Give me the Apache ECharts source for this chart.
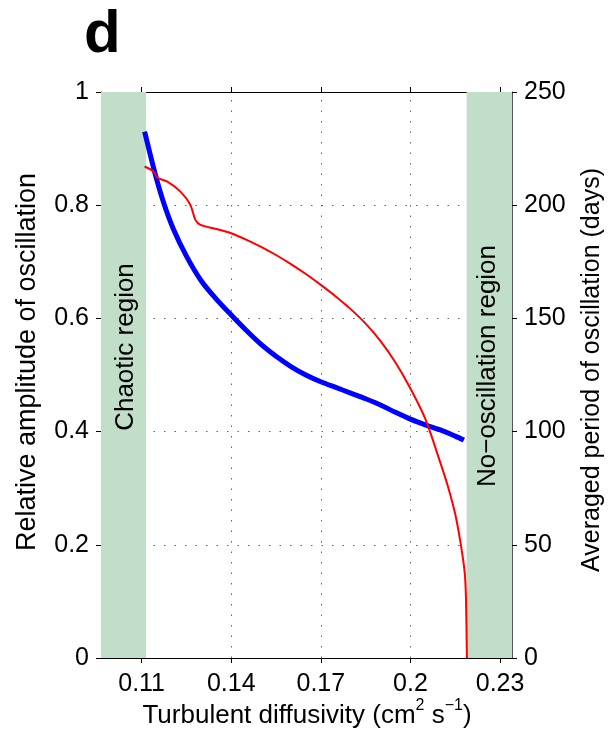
<!DOCTYPE html>
<html><head><meta charset="utf-8">
<script src="https://cdn.jsdelivr.net/npm/echarts@6/dist/echarts.min.js"></script>
<style>html,body{margin:0;padding:0;background:#fff}#c{width:615px;height:743px}</style>
</head><body><div id="c"></div>
<script>
// ---- data ----
const xTickValues = [0.11, 0.14, 0.17, 0.2, 0.23];
const xGridValues = [0.14, 0.17, 0.2];
const chaoticRange = [0.0964, 0.1115];
const noOscRange = [0.2188, 0.234];

const ampX = [0.111, 0.1146, 0.1174, 0.1207, 0.125, 0.13, 0.135, 0.14, 0.145, 0.15, 0.155, 0.16, 0.165, 0.17, 0.175, 0.18, 0.185, 0.19, 0.195, 0.2, 0.205, 0.21, 0.215, 0.2179];
const ampY = [0.930, 0.854, 0.804, 0.757, 0.710, 0.666, 0.634, 0.606, 0.579, 0.554, 0.533, 0.515, 0.500, 0.488, 0.478, 0.468, 0.458, 0.447, 0.434, 0.422, 0.412, 0.403, 0.392, 0.385];

const perX = [0.111, 0.114, 0.1152, 0.1185, 0.123, 0.1263, 0.128, 0.1297, 0.135, 0.14, 0.145, 0.15, 0.155, 0.16, 0.165, 0.17, 0.175, 0.18, 0.185, 0.19, 0.195, 0.2, 0.205, 0.21, 0.2125, 0.215, 0.2168, 0.2182, 0.2186, 0.2189];
const perY = [217.1, 214.9, 212.2, 210.5, 206.0, 200.2, 193.5, 191.3, 189.5, 187.6, 184.8, 181.6, 178.0, 174.0, 169.6, 164.8, 159.7, 154.1, 147.7, 140.0, 130.5, 119.0, 105.5, 86.3, 76.0, 63.5, 50.6, 37.3, 25.5, 0];

// ---- chart ----
const FONT = 'Liberation Sans, Arial, sans-serif';
const FS = 25;
const chart = echarts.init(document.getElementById('c'), null, {renderer: 'canvas'});
const dotted = {type: [1.5, 9], color: '#666', width: 1};

chart.setOption({
  animation: false,
  backgroundColor: '#fff',
  grid: {left: 101, right: 103, top: 92, bottom: 85, containLabel: false},
  xAxis: [{
    type: 'value', position: 'bottom', min: chaoticRange[0], max: noOscRange[1],
    axisLine: {show: true, onZero: false, lineStyle: {color: '#000', width: 1}},
    axisTick: {show: true, inside: false, length: 5, customValues: xTickValues, lineStyle: {color: '#000'}},
    axisLabel: {show: true, margin: 14, customValues: xTickValues, color: '#000', fontFamily: FONT, fontSize: FS,
      formatter: v => String(+v.toFixed(2))},
    splitLine: {show: false}
  }, {
    type: 'value', position: 'top', min: chaoticRange[0], max: noOscRange[1],
    axisLine: {show: true, onZero: false, lineStyle: {color: '#000', width: 1}},
    axisTick: {show: true, inside: false, length: 5, customValues: xTickValues, lineStyle: {color: '#000'}},
    axisLabel: {show: false},
    splitLine: {show: false}
  }],
  yAxis: [{
    type: 'value', position: 'left', min: 0, max: 1, interval: 0.2,
    axisLine: {show: true, lineStyle: {color: '#333', width: 1}},
    axisTick: {show: true, inside: false, length: 5, lineStyle: {color: '#000'}},
    axisLabel: {margin: 12, color: '#000', fontFamily: FONT, fontSize: FS, formatter: v => String(+v.toFixed(1))},
    splitLine: {show: true, lineStyle: dotted}
  }, {
    type: 'value', position: 'right', min: 0, max: 250, interval: 50,
    axisLine: {show: true, lineStyle: {color: '#555', width: 1}},
    axisTick: {show: true, inside: false, length: 5, lineStyle: {color: '#000'}},
    axisLabel: {margin: 12, color: '#000', fontFamily: FONT, fontSize: FS},
    splitLine: {show: false}
  }],
  series: [{
    type: 'line', xAxisIndex: 0, yAxisIndex: 0, data: [], z: 1, silent: true,
    markLine: {silent: true, symbol: 'none', label: {show: false},
      lineStyle: dotted, data: xGridValues.map(v => ({xAxis: v}))}
  }, {
    name: 'amplitude', type: 'line', xAxisIndex: 0, yAxisIndex: 0, smooth: 0.3, symbol: 'none',
    lineStyle: {color: '#0000ff', width: 5}, z: 3,
    data: ampX.map((x, i) => [x, ampY[i]]),
    markArea: {silent: true, itemStyle: {color: '#c1dec8'},
      data: [[{xAxis: chaoticRange[0]}, {xAxis: chaoticRange[1]}], [{xAxis: noOscRange[0]}, {xAxis: noOscRange[1]}]]}
  }, {
    name: 'period', type: 'line', xAxisIndex: 0, yAxisIndex: 1, smooth: 0.3, symbol: 'none',
    lineStyle: {color: '#ff0000', width: 2}, z: 4,
    data: perX.map((x, i) => [x, perY[i]])
  }],
  graphic: [
    {type: 'text', left: 84, top: 5, style: {text: 'd', font: 'bold 60px ' + FONT, fill: '#000'}},
    {type: 'text', x: 28, y: 362, rotation: Math.PI / 2,
      style: {text: 'Relative amplitude of oscillation', font: '27px ' + FONT, fill: '#000', align: 'center', verticalAlign: 'middle'}},
    {type: 'text', x: 592, y: 370, rotation: Math.PI / 2,
      style: {text: 'Averaged period of oscillation (days)', font: '25px ' + FONT, fill: '#000', align: 'center', verticalAlign: 'middle'}},
    {type: 'text', x: 126, y: 347, rotation: Math.PI / 2, z: 10,
      style: {text: 'Chaotic region', font: '26px ' + FONT, fill: '#000', align: 'center', verticalAlign: 'middle'}},
    {type: 'text', x: 488, y: 366, rotation: Math.PI / 2, z: 10,
      style: {text: 'No\u2212oscillation region', font: '26px ' + FONT, fill: '#000', align: 'center', verticalAlign: 'middle'}},
    {type: 'text', x: 307, y: 713,
      style: {text: '{a|Turbulent diffusivity (cm}{s|2}{a| s}{s|\u22121}{a|)}', align: 'center', verticalAlign: 'middle',
        rich: {a: {fontFamily: FONT, fontSize: 26, fill: '#000', color: '#000', lineHeight: 31, verticalAlign: 'bottom'},
               s: {fontFamily: FONT, fontSize: 16, fill: '#000', color: '#000', lineHeight: 31, verticalAlign: 'top'}}}}
  ]
});
</script></body></html>
